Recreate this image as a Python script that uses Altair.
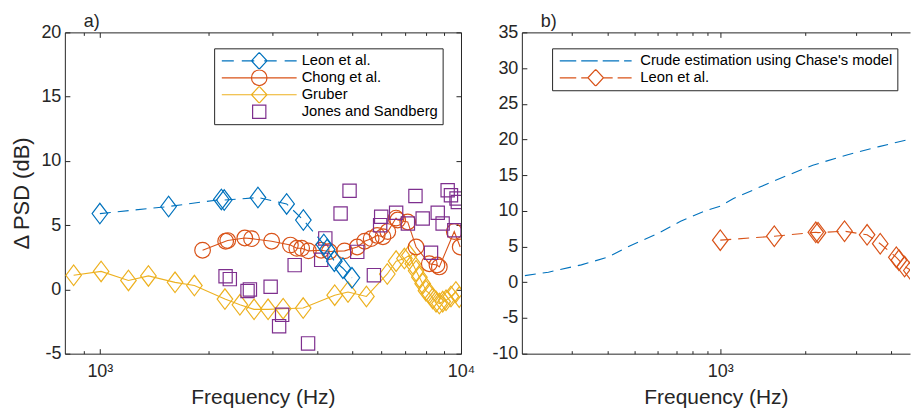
import altair as alt
import pandas as pd

# ---------------- data ----------------
leon_f = [1000, 1550, 2170, 2210, 2740, 3290, 3660, 4170, 4260, 4460, 4710, 4990]
leon_y = [5.9, 6.45, 7.0, 6.95, 7.15, 6.65, 5.4, 3.5, 3.1, 2.2, 1.65, 0.9]

chong_f = [1925, 2230, 2260, 2520, 2630, 2990, 3370, 3510, 3620, 3780, 4100, 4320,
           4760, 5160, 5410, 5640, 5860, 6080, 6270, 6610, 6680, 7120, 7510, 8170,
           8580, 8710, 9580, 9950]
chong_y = [3.05, 3.75, 3.8, 4.0, 3.95, 3.75, 3.45, 3.2, 3.2, 3.0, 3.05, 2.95,
           3.0, 3.3, 3.75, 3.95, 4.2, 4.1, 4.5, 5.55, 5.4, 5.25, 3.3, 2.0,
           1.9, 1.75, 4.5, 3.3]

gruber_f = [846, 1008, 1200, 1363, 1615, 1827, 2220, 2442, 2673, 2923, 3218, 3656,
            4470, 4866, 5472, 6250, 6612, 6971, 7194, 7355, 7511, 7670, 7834, 8000,
            8170, 8350, 8530, 8710, 8900, 9090, 9380, 9680, 9890]
gruber_y = [1.1, 1.4, 0.7, 1.05, 0.55, 0.3, -0.75, -1.2, -1.55, -1.55, -1.5, -1.45,
            -0.45, -0.2, -0.55, 1.2, 2.2, 2.4, 2.65, 2.0, 1.45, 0.95, 0.45, -0.1,
            -0.3, -0.7, -0.95, -1.1, -0.95, -0.85, -0.55, -0.2, -0.6]

jones_f = [2229, 2290, 2564, 2603, 2971, 3463, 3197, 3136, 3772, 4914, 4641, 6012,
           5972, 4210, 4101, 5161, 5739, 7480, 6613, 7834, 7128, 8622, 8895, 8260,
           9185, 9380, 9720, 9800, 9582]
jones_y = [1.03, 0.8, -0.13, 0.0, 0.21, 1.89, -1.98, -2.87, -4.2, 7.68, 5.91, 5.65,
           5.0, 3.97, 2.3, 2.92, 1.11, 7.27, 5.96, 5.52, 5.13, 5.96, 5.13, 2.85,
           7.72, 7.33, 7.08, 6.8, 4.61]

chase_f = [205, 248, 324, 402, 484, 601, 725, 898, 1000, 1113, 1622, 2119, 2773, 3625, 4613]
chase_y = [0.93, 1.41, 2.44, 3.52, 5.16, 6.8, 8.54, 10.1, 10.65, 11.73, 14.55, 16.4, 17.8, 19.0, 20.0]

names_a = ["Leon et al.", "Chong et al.", "Gruber", "Jones and Sandberg"]
names_b = ["Crude estimation using Chase's model", "Leon et al."]

xt_a_major = [1000, 10000]
xt_a_minor = [900, 2000, 3000, 4000, 5000, 6000, 7000, 8000, 9000]
yt_a = [-5, 0, 5, 10, 15, 20]
xt_b_major = [1000]
xt_b_minor = [300, 400, 500, 600, 700, 800, 900, 2000, 3000, 4000]
yt_b = [-10, -5, 0, 5, 10, 15, 20, 25, 30, 35]

# ---------------- styles ----------------
BLUE, ORANGE, YELLOW, PURPLE = "#0072BD", "#D95319", "#EDB120", "#7E2F8E"
AX = "#262626"
FONT = "Liberation Sans"
DASH = [11, 7]

DIAMOND = "M-0.78,0L0,-1.03L0.78,0L0,1.03Z"   # used with size 400 -> unit 10px

# legend symbol paths (unit = 6.5 px with symbolSize 169)
L_DIA = "M-1.2,0L0,-1.3L1.2,0L0,1.3Z"
L_CIRC = "M-1.2,0A1.2,1.2,0,1,0,1.2,0A1.2,1.2,0,1,0,-1.2,0"
L_SQ = "M-1.02,-1.02L1.02,-1.02L1.02,1.02L-1.02,1.02Z"
L_SOLID = "M-5.77,0L5.77,0"
L_DASH_A = "M-5.77,0L-3.92,0M-2.69,0L-0.77,0M0.77,0L2.69,0M3.92,0L5.77,0"
BND_A = "M-6.34,0M28.34,0"
L_DASH_B1 = "M-5.54,0L-3,0M-2.23,0L0.31,0M1.08,0L3.62,0M4.38,0L5.54,0"
L_DASH_B2 = "M-5.54,0L-3,0M-2.23,0L-1.08,0M1.08,0L2.62,0M3.38,0L5.54,0"
BND_B = "M-6.11,0M46.66,0"

paths_a = [L_DASH_A + L_DIA + BND_A, L_SOLID + L_CIRC + BND_A,
           L_SOLID + L_DIA + BND_A, L_SQ + BND_A]
paths_b = [L_DASH_B1 + BND_B, L_DASH_B2 + L_DIA + BND_B]

common = dict(grid=False, tickColor=AX, tickWidth=1, labelColor=AX, labelFont=FONT,
              labelFontSize=18, titleFont=FONT, titleFontSize=21,
              titleFontWeight="normal", titleColor=AX, minExtent=0)


def tick_axis(orient, values, size, **kw):
    args = dict(orient=orient, values=values, tickSize=size, offset=-size,
                domain=False, title=None, **common)
    if "labelExpr" not in kw:
        args["labels"] = False
    args.update(kw)
    return alt.Axis(**args)


def domain_axis(orient):
    return alt.Axis(orient=orient, domain=True, domainColor=AX, domainWidth=1,
                    ticks=False, labels=False, grid=False, title=None, minExtent=0)


def ax_layer(x0, y0, xs, ys, xaxis, yaxis):
    df = pd.DataFrame({"f": [x0], "y": [y0]})
    return alt.Chart(df).mark_point(opacity=0).encode(
        x=alt.X("f:Q", scale=xs, axis=xaxis),
        y=alt.Y("y:Q", scale=ys, axis=yaxis))


def series(f, y, xs, ys, color, dash=None, line=True, shape=None, size=None):
    df = pd.DataFrame({"f": f, "y": y})
    enc = dict(x=alt.X("f:Q", scale=xs, axis=None), y=alt.Y("y:Q", scale=ys, axis=None))
    out = []
    if line:
        kw = dict(color=color, strokeWidth=1.1, clip=True)
        if dash:
            kw["strokeDash"] = dash
        out.append(alt.Chart(df).mark_line(**kw).encode(**enc))
    if shape:
        out.append(alt.Chart(df).mark_point(shape=shape, size=size, filled=False, color=color,
                                            strokeWidth=1.2, opacity=1, clip=True).encode(**enc))
    return out


def legend_layer(field, names, colors, paths, sym_off, lab_off, lx, ly):
    df = pd.DataFrame({field: names})
    lg = alt.Legend(title=None, orient="none", legendX=lx, legendY=ly, padding=4,
                    strokeColor=AX, fillColor="white", cornerRadius=0,
                    labelFont=FONT, labelFontSize=14.8, labelColor="#000", labelLimit=400,
                    symbolSize=169, symbolStrokeWidth=1.2, symbolOffset=sym_off,
                    labelOffset=lab_off, rowPadding=0, clipHeight=17)
    # invisible helper mark that only carries the legend
    return alt.Chart(df).mark_point(opacity=0, size=1, strokeWidth=1.2, filled=False,
                                    clip=True).encode(
        x=alt.value(150), y=alt.value(150),
        color=alt.Color(f"{field}:N", scale=alt.Scale(domain=names, range=colors), legend=lg),
        shape=alt.Shape(f"{field}:N", scale=alt.Scale(domain=names, range=paths), legend=lg))


def panel_title(t):
    return alt.TitleParams(text=t, anchor="start", frame="group", dx=19, offset=-8,
                           fontSize=18, font=FONT, fontWeight="normal", color=AX)


XEXPR_A = "datum.value == 1000 ? '10³' : (datum.value == 10000 ? '10⁴' : '')"
XEXPR_B = "datum.value == 1000 ? '10³' : ''"
YEXPR = "'' + datum.value"

# ---------------- panel a ----------------
xs_a = alt.Scale(type="log", domain=[800, 10000], nice=False)
ys_a = alt.Scale(domain=[-5, 20], nice=False, zero=False)

layers_a = [
    ax_layer(1000, 0, xs_a, ys_a,
             tick_axis("bottom", xt_a_major, 5, labelExpr=XEXPR_A, labelPadding=9,
                       labelFlush=False, labelOverlap=False, title="Frequency (Hz)",
                       titlePadding=6),
             tick_axis("left", yt_a, 5, labelExpr=YEXPR, labelPadding=4,
                       title="Δ PSD (dB)", titlePadding=7, titleFontSize=22)),
    ax_layer(1000, 0, xs_a, ys_a, tick_axis("bottom", xt_a_minor, 3), tick_axis("right", yt_a, 5)),
    ax_layer(1000, 0, xs_a, ys_a, tick_axis("top", xt_a_major, 5), None),
    ax_layer(1000, 0, xs_a, ys_a, tick_axis("top", xt_a_minor, 3), None),
]
layers_a += series(gruber_f, gruber_y, xs_a, ys_a, YELLOW, shape=DIAMOND, size=400)
layers_a += series(chong_f, chong_y, xs_a, ys_a, ORANGE, shape="circle", size=246)
layers_a += series(jones_f, jones_y, xs_a, ys_a, PURPLE, line=False, shape="square", size=177)
layers_a += series(leon_f, leon_y, xs_a, ys_a, BLUE, dash=DASH, shape=DIAMOND, size=400)
layers_a.append(legend_layer("leg_a", names_a, [BLUE, ORANGE, YELLOW, PURPLE], paths_a,
                             33.7, 35.0, 149.6, 16))

chart_a = alt.layer(*layers_a).resolve_axis(x="independent", y="independent").properties(
    width=397, height=322, title=panel_title("a)"),
    view=alt.ViewBackground(stroke=AX, strokeWidth=1))

# ---------------- panel b ----------------
xs_b = alt.Scale(type="log", domain=[200, 4660], nice=False)
ys_b = alt.Scale(domain=[-10, 35], nice=False, zero=False)

layers_b = [
    ax_layer(1000, 0, xs_b, ys_b, domain_axis("bottom"), domain_axis("left")),
    ax_layer(1000, 0, xs_b, ys_b, domain_axis("top"), None),
    ax_layer(1000, 0, xs_b, ys_b,
             tick_axis("bottom", xt_b_major, 5, labelExpr=XEXPR_B, labelPadding=9,
                       labelFlush=False, labelOverlap=False, title="Frequency (Hz)",
                       titlePadding=6),
             tick_axis("left", yt_b, 5, labelExpr=YEXPR, labelPadding=4)),
    ax_layer(1000, 0, xs_b, ys_b, tick_axis("bottom", xt_b_minor, 3), None),
    ax_layer(1000, 0, xs_b, ys_b, tick_axis("top", xt_b_major, 5), None),
    ax_layer(1000, 0, xs_b, ys_b, tick_axis("top", xt_b_minor, 3), None),
]
layers_b += series(chase_f, chase_y, xs_b, ys_b, BLUE, dash=DASH)
layers_b += series(leon_f, leon_y, xs_b, ys_b, ORANGE, dash=DASH, shape=DIAMOND, size=400)
layers_b.append(legend_layer("leg_b", names_b, [BLUE, ORANGE], paths_b, 32.2, 37.2, 30.3, 16))

chart_b = alt.layer(*layers_b).resolve_axis(x="independent", y="independent").properties(
    width=389, height=322, title=panel_title("b)"),
    view=alt.ViewBackground(stroke="transparent"))

chart = alt.hconcat(chart_a, chart_b, spacing=15).resolve_scale(
    color="independent", shape="independent").properties(
    padding={"left": 10, "top": 12, "right": 0, "bottom": 0},
    background="white",
).configure_view(stroke="transparent")

chart.save("out.html", embed_options={"renderer": "svg", "actions": False})
